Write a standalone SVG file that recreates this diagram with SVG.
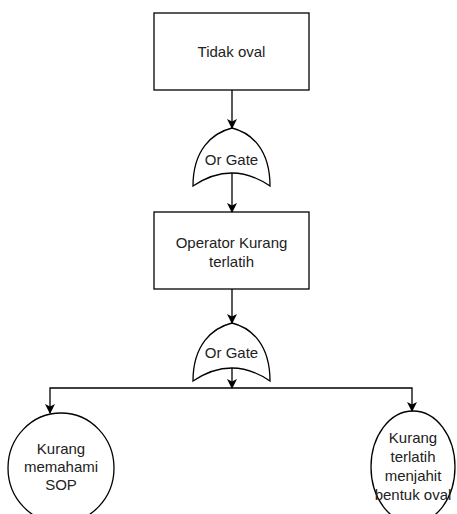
<svg xmlns="http://www.w3.org/2000/svg" width="457" height="514" viewBox="0 0 457 514">
<defs>
<marker id="arr" viewBox="0 0 10 10" refX="9" refY="5" markerWidth="10" markerHeight="10" markerUnits="userSpaceOnUse" orient="auto">
<path d="M0,0 L10,5 L0,10 L2.5,5 Z" fill="#000"/>
</marker>
<style>
.box{fill:#fff;stroke:#000;stroke-width:1.3}
.gate{fill:#fff;stroke:#000;stroke-width:1.3}
.t{font-family:"Liberation Sans",Arial,sans-serif;font-size:15px;fill:#222;text-anchor:middle}
.c{fill:none;stroke:#000;stroke-width:1.3}
</style>
</defs>
<rect width="457" height="514" fill="#fff"/>
<g id="n1">
<rect class="box" x="154" y="13" width="155" height="77"/>
<text class="t" x="231.5" y="57">Tidak oval</text>
</g>
<g id="g1">
<path class="gate" d="M193,186 C193,150 212,133 232,128 C252,133 270,150 270,186 Q232,160 193,186 Z"/>
<text class="t" x="231.5" y="165">Or Gate</text>
</g>
<g id="n2">
<rect class="box" x="154" y="212" width="155" height="77"/>
<text class="t" x="231.5" y="248">Operator Kurang</text>
<text class="t" x="231.5" y="267">terlatih</text>
</g>
<g id="g2">
<path class="gate" d="M193,381 C193,345 212,328 232,323 C252,328 270,345 270,381 Q232,355 193,381 Z"/>
<text class="t" x="231.5" y="358">Or Gate</text>
</g>
<g id="n3">
<ellipse class="box" cx="61" cy="468" rx="53" ry="55"/>
<text class="t" x="61" y="454">Kurang</text>
<text class="t" x="61" y="472">memahami</text>
<text class="t" x="61" y="490">SOP</text>
</g>
<g id="n4">
<ellipse class="box" cx="413" cy="467" rx="42" ry="56"/>
<text class="t" x="413" y="443">Kurang</text>
<text class="t" x="413" y="462">terlatih</text>
<text class="t" x="413" y="481">menjahit</text>
<text class="t" x="413" y="500">bentuk oval</text>
</g>
<g id="connectors">
<path class="c" d="M232,90 L232,128" marker-end="url(#arr)"/>
<path class="c" d="M232,173 L232,212" marker-end="url(#arr)"/>
<path class="c" d="M232,289 L232,323" marker-end="url(#arr)"/>
<path class="c" d="M232,368 L232,388" marker-end="url(#arr)"/>
<path class="c" d="M232,388 L50,388 L50,413" marker-end="url(#arr)"/>
<path class="c" d="M232,388 L412,388 L412,411" marker-end="url(#arr)"/>
</g>
</svg>
